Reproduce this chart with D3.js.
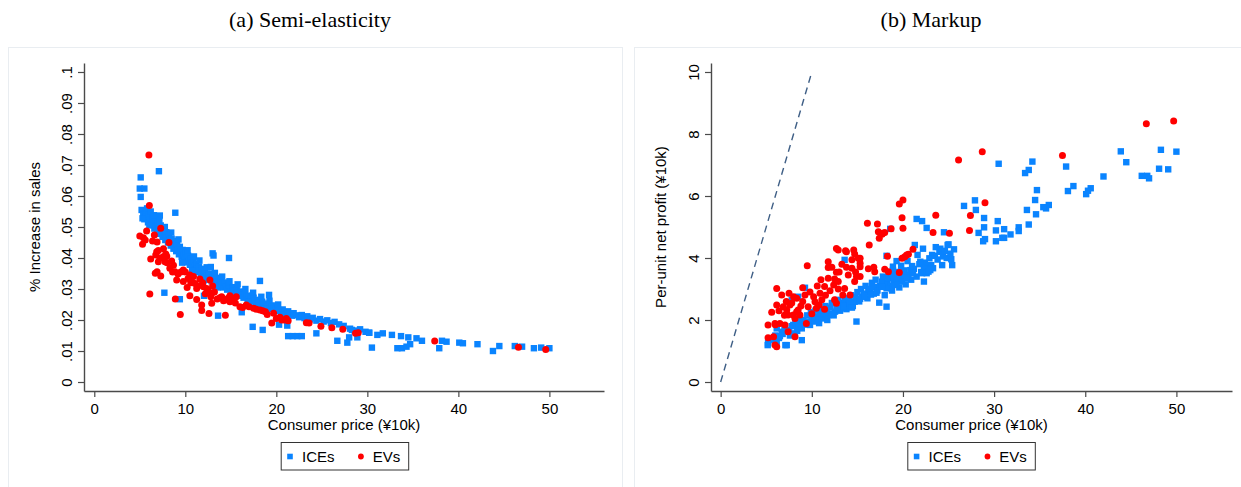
<!DOCTYPE html>
<html>
<head>
<meta charset="utf-8">
<script src="https://cdn.jsdelivr.net/npm/d3@7"></script>
<style>
  html, body { margin: 0; padding: 0; background: #fff; }
  svg { display: block; font-family: "Liberation Sans", Arial, Helvetica, sans-serif; }
</style>
</head>
<body>
<svg id="chart" width="1241" height="487"></svg>
<script>
// ---- Data: [consumer price (10k yuan), value] ----
const priceTicks = [0, 10, 20, 30, 40, 50];
const semiTicks = [0, 0.01, 0.02, 0.03, 0.04, 0.05, 0.06, 0.07, 0.08, 0.09, 0.1];
const semiTickLabels = ["0", ".01", ".02", ".03", ".04", ".05", ".06", ".07", ".08", ".09", ".1"];
const markupTicks = [0, 2, 4, 6, 8, 10];
const markupTickLabels = ["0", "2", "4", "6", "8", "10"];
const seriesNames = ["ICEs", "EVs"];
const panelTitles = ["(a) Semi-elasticity", "(b) Markup"];
const xTitles = ["Consumer price (\u00a510k)", "Consumer price (\u00a510k)"];
const yTitles = ["% Increase in sales", "Per-unit net profit (\u00a510k)"];
const diagonal = [[0, 0], [10, 10]];

const semiICE = [
  [5.1,0.066],[7.1,0.068],[5.0,0.0624],[5.5,0.0624],[5.1,0.0597],[5.4,0.0544],[7.2,0.0537],[8.9,0.0546],
  [5.2,0.0555],[5.4,0.0540],[5.5,0.0525],[5.6,0.0548],[5.7,0.0532],[5.8,0.0560],[5.9,0.0515],[6.0,0.0540],[6.1,0.0522],[6.2,0.0550],
  [6.3,0.0508],[6.4,0.0530],[6.5,0.0515],[6.6,0.0495],[6.7,0.0525],[6.8,0.0502],[6.9,0.0488],[7.0,0.0512],
  [7.1,0.0495],[7.2,0.0478],[7.3,0.0505],[7.4,0.0485],[7.5,0.0468],[7.6,0.0492],[7.7,0.0476],[7.8,0.0458],[7.9,0.0483],[8.0,0.0466],
  [8.1,0.0450],[8.2,0.0475],[8.3,0.0458],[8.4,0.0440],[8.5,0.0462],[8.6,0.0447],[8.7,0.0430],[8.8,0.0455],[8.9,0.0438],[9.0,0.0422],
  [9.1,0.0445],[9.2,0.0428],[9.3,0.0412],[9.4,0.0436],[9.5,0.0420],[9.6,0.0404],[9.7,0.0426],[9.8,0.0410],[9.9,0.0395],[10.0,0.0417],
  [10.1,0.0400],[10.2,0.0386],[10.3,0.0408],[10.4,0.0392],[10.5,0.0378],[10.6,0.0398],[10.7,0.0384],[10.8,0.0370],[10.9,0.0390],[11.0,0.0376],
  [11.1,0.0362],[11.2,0.0381],[11.3,0.0367],[11.4,0.0355],[11.5,0.0373],[11.6,0.0360],[11.7,0.0347],[11.8,0.0365],[11.9,0.0352],[12.0,0.0340],
  [12.15,0.0358],[12.3,0.0344],[12.45,0.0332],[12.6,0.0350],[12.75,0.0337],[12.9,0.0325],[13.0,0.0343],
  [13.15,0.0330],[13.3,0.0318],[13.45,0.0336],[13.6,0.0323],[13.75,0.0311],[13.9,0.0328],[14.0,0.0316],
  [14.15,0.0305],[14.3,0.0321],[14.45,0.0309],[14.6,0.0298],[14.75,0.0313],[14.9,0.0302],[15.0,0.0291],
  [15.2,0.0306],[15.35,0.0295],[15.5,0.0284],[15.65,0.0299],[15.8,0.0288],[15.95,0.0278],
  [16.1,0.0292],[16.25,0.0281],[16.4,0.0272],[16.55,0.0285],[16.7,0.0275],[16.85,0.0265],
  [17.0,0.0279],[17.2,0.0268],[17.35,0.0259],[17.5,0.0272],[17.65,0.0262],[17.8,0.0253],
  [17.95,0.0265],[18.1,0.0256],[18.3,0.0247],[18.45,0.0259],[18.6,0.0250],[18.8,0.0241],
  [18.95,0.0253],[19.1,0.0244],[19.3,0.0236],[19.5,0.0247],[19.7,0.0238],[19.9,0.0230],
  [20.1,0.0240],[20.3,0.0232],[20.5,0.0224],[20.7,0.0234],[20.9,0.0226],
  [21.1,0.0219],[21.3,0.0228],[21.5,0.0221],[21.7,0.0214],[21.9,0.0222],
  [22.2,0.0215],[22.5,0.0209],[22.8,0.0216],[23.1,0.0206],[23.4,0.0212],[23.7,0.0202],[24.0,0.0207],
  [24.4,0.0198],[24.8,0.0203],[25.2,0.0195],[25.6,0.0199],[26.0,0.0190],[26.4,0.0194],[26.9,0.0186],[27.4,0.0181],
  [28.1,0.0172],[28.6,0.0166],[29.2,0.0170],[29.8,0.0162],[30.2,0.0159],
  [5.3,0.0528],[6.05,0.0505],[6.55,0.0538],[7.15,0.0520],[7.75,0.0500],[8.45,0.0482],[9.25,0.0460],[10.25,0.0425],
  [10.95,0.0405],[11.55,0.0392],[12.35,0.0370],[13.25,0.0352],[14.05,0.0340],[14.85,0.0325],[15.75,0.0315],[16.6,0.0300],
  [17.45,0.0288],[18.35,0.0275],[19.25,0.0262],[20.2,0.0250],[9.65,0.0385],[10.75,0.0358],[12.05,0.0328],[13.55,0.0305],
  [15.1,0.0280],[16.95,0.0258],[18.7,0.0235],[20.6,0.0217],
  [13.0,0.0415],[13.1,0.0408],[14.8,0.0400],[12.8,0.0371],[18.2,0.0326],[19.2,0.0281],[7.7,0.0288],[9.4,0.0267],
  [13.6,0.0214],[17.4,0.0178],[18.5,0.0168],[20.3,0.0185],[21.2,0.0182],[21.3,0.0148],[21.8,0.0148],[22.3,0.0148],
  [22.8,0.0148],[24.4,0.0157],[16.2,0.0225],[12.05,0.0278],
  [26.7,0.0133],[27.8,0.0127],[28.0,0.0144],[28.3,0.0168],[28.9,0.0144],[30.2,0.0159],[30.5,0.0111],[31.1,0.0152],
  [31.7,0.0157],[32.7,0.0152],[33.3,0.0109],[33.8,0.0109],[34.3,0.0114],[33.7,0.0148],[34.5,0.0144],[34.7,0.0122],
  [35.4,0.0141],[36.0,0.0133],[37.9,0.0109],[38.2,0.0133],[38.7,0.0130],[40.1,0.0127],[40.5,0.0125],[42.1,0.0122],
  [43.8,0.0100],[44.5,0.0116],[46.2,0.0116],[47.0,0.0114],[48.3,0.0109],[49.1,0.0111],[50.0,0.0109]
];

const semiEV = [
  [6.0,0.0732],[6.05,0.0569],[5.0,0.0471],[5.3,0.0444],[5.75,0.0487],[5.6,0.0458],[5.4,0.0465],[6.6,0.0474],
  [7.3,0.0496],[6.9,0.0452],[8.2,0.0450],[6.86,0.0420],[7.85,0.0413],[6.2,0.0397],[7.04,0.0424],[6.75,0.0410],
  [7.58,0.0404],[7.96,0.0406],[7.04,0.0388],[7.77,0.0388],[8.5,0.0390],[6.7,0.0351],[7.3,0.0342],[6.9,0.0356],
  [8.3,0.0367],[8.87,0.0356],[9.2,0.0348],[9.78,0.0361],[8.7,0.0377],[9.05,0.0329],[9.78,0.0324],[10.3,0.0334],
  [10.7,0.0324],[10.5,0.0345],[11.6,0.0332],[12.7,0.0329],[12.0,0.0307],[11.25,0.0302],[12.35,0.0302],[11.07,0.0318],
  [10.6,0.0320],[10.5,0.0278],[11.25,0.0266],[11.8,0.0248],[11.8,0.0231],[12.9,0.0286],[12.9,0.0254],[14.0,0.0275],
  [14.5,0.0265],[14.9,0.0259],[15.6,0.0275],[12.6,0.0221],[14.4,0.0215],[6.1,0.0284],[8.9,0.0268],[9.45,0.0218],
  [13.8,0.0272],[14.9,0.0278],[16.0,0.0243],[16.7,0.0248],[17.5,0.0238],[18.2,0.0232],[18.8,0.0227],[19.7,0.0222],
  [20.4,0.0209],[21.1,0.0205],[19.5,0.0190],[20.0,0.0205],[20.6,0.0200],[23.3,0.0191],[23.6,0.0190],[24.9,0.0180],
  [26.1,0.0175],[27.3,0.0170],[28.7,0.0157],[29.0,0.0159],[37.4,0.0132],[46.6,0.0112],[49.6,0.0105],
  [10.0,0.0355],[10.9,0.0340],[11.4,0.0310],[12.2,0.0285],[12.5,0.0296],[13.2,0.0290],[13.5,0.0268],[14.2,0.0262],
  [15.2,0.0262],[15.5,0.0255],[16.3,0.0240],[17.0,0.0243],[17.8,0.0235],[18.5,0.0230],[19.0,0.0218],[13.0,0.0310],
  [11.9,0.0320],[9.5,0.0355],[8.0,0.0385],[7.6,0.0430],[6.4,0.0455],[8.6,0.0355],[7.2,0.0400],[10.2,0.0305],
  [12.8,0.0275],[14.7,0.0270],[20.9,0.0200],[21.3,0.0198]
];

const markupICE = [
  [5.2,1.25],[5.16,1.19],[5.5,1.35],[5.8,1.41],[6.0,1.50],[6.15,1.30],[6.15,1.73],[6.4,1.42],[6.7,1.62],[6.8,1.55],
  [7.0,1.75],[7.1,1.19],[7.25,1.19],[7.4,1.68],[7.6,1.50],[7.8,1.80],[7.97,1.84],[8.15,1.57],[8.2,1.90],[8.4,1.65],
  [8.5,1.95],[8.7,2.05],[8.9,1.73],[8.9,1.35],[9.07,2.00],[9.2,1.85],[9.5,2.15],[9.6,1.95],[9.8,1.84],[9.9,2.25],
  [10.1,2.00],[10.35,1.95],[10.4,2.30],[10.6,2.10],[10.8,1.90],[11.0,2.35],[11.1,2.05],[11.3,2.20],[11.5,2.45],[11.7,2.00],
  [11.8,2.16],[12.0,2.40],[12.2,2.55],[12.4,2.15],[12.55,2.27],[12.7,2.45],[12.9,2.65],[13.1,2.30],[13.3,2.38],[13.4,2.55],
  [13.6,2.70],[13.8,2.35],[14.0,2.48],[14.1,2.65],[14.3,2.80],[14.5,2.45],[14.7,2.59],[14.8,2.75],[14.9,1.95],[15.0,2.90],
  [15.2,2.60],[15.4,3.00],[15.5,2.75],[15.7,2.85],[15.9,3.10],[16.1,2.70],[16.2,2.91],[16.4,3.00],[16.6,3.20],[16.8,2.85],
  [16.9,3.07],[17.0,3.30],[17.2,2.95],[17.4,2.56],[17.5,3.10],[17.7,3.24],[17.8,3.40],[18.0,2.80],[18.2,2.43],[18.3,3.20],
  [18.4,3.35],[18.5,3.50],[18.8,2.95],[19.0,3.25],[19.1,3.40],[19.4,3.55],[19.6,3.05],[19.8,3.35],[19.9,3.51],[20.1,3.60],
  [20.3,3.15],[20.6,3.45],[20.9,3.30],[21.2,3.65],[21.5,3.40],[21.8,3.80],[22.0,3.55],[22.4,3.85],[22.7,3.70],[23.2,4.10],
  [23.8,3.95],[24.0,4.20],[24.4,4.05],[23.6,4.35],[24.8,4.00],[21.6,4.10],[22.2,4.30],[20.5,3.90],[19.8,3.75],
  [19.3,3.90],[21.0,3.74],[20.8,3.61],[21.1,3.51],[22.3,3.67],[22.1,3.51],[22.6,3.51],[22.8,3.56],[22.3,3.24],[18.9,3.61],
  [18.9,3.45],[20.0,3.45],[19.5,3.29],[19.9,3.24],[20.4,3.35],[19.3,3.13],[18.7,3.10],[18.2,3.02],[17.7,3.07],[18.6,4.94],
  [18.2,4.07],[18.9,3.72],[13.6,3.94],[9.25,3.04],[7.8,2.65],[8.5,2.75],
  [10.0,2.12],[10.9,2.22],[11.6,2.30],[12.1,2.20],[12.8,2.35],[13.5,2.45],[14.2,2.55],[14.4,2.40],[15.3,2.68],[15.8,2.78],
  [16.5,2.82],[17.1,2.88],[9.3,1.92],[8.6,1.80],[7.5,1.62],[6.5,1.48],
  [50.0,7.43],[48.3,7.49],[43.9,7.44],[44.5,7.09],[48.1,6.88],[49.1,6.86],[46.2,6.65],[46.8,6.65],[47.0,6.57],[42.0,6.63],
  [40.6,6.25],[40.3,6.17],[40.1,6.06],[38.7,6.32],[38.1,6.16],[37.9,6.95],[34.2,7.11],[33.8,6.84],[33.4,6.74],[30.5,7.04],
  [34.7,6.19],[34.5,5.87],[36.0,5.71],[35.7,5.60],[35.4,5.64],[34.6,5.41],[33.6,5.55],[33.8,5.08],[32.7,4.99],[32.7,4.87],
  [31.8,4.76],[31.1,4.65],[30.9,4.65],[30.2,4.54],[31.1,4.93],[30.2,4.89],[30.4,5.19],[28.9,5.29],[28.9,4.99],[28.3,4.81],
  [29.0,4.61],[28.8,4.54],[27.9,5.86],[28.0,5.55],[26.7,5.68],[22.1,5.19],[22.6,4.97],[24.5,4.83],[25.0,4.44],[24.1,4.30],
  [24.6,4.23],[25.6,4.28],[25.2,4.14],[25.3,3.96],[25.4,3.77],[22.9,3.99],[23.5,4.07],[23.1,3.77],[23.3,3.67],[24.3,3.77],
  [21.9,3.88],[21.5,5.26],[21.3,4.42],[24.9,4.42],[23.0,3.61]
];

const markupEV = [
  [49.7,8.42],[46.7,8.33],[37.5,7.31],[28.7,7.43],[26.1,7.16],[29.0,5.78],[23.6,5.38],[27.4,5.37],[23.3,4.82],[25.1,4.80],
  [27.3,4.89],[20.0,5.87],[19.6,5.74],[19.9,5.30],[20.0,4.96],[18.7,4.94],[16.1,5.12],[17.2,5.10],[17.3,4.85],[17.8,4.80],
  [18.0,4.82],[17.4,4.64],[16.3,4.42],[21.1,4.28],[20.6,4.12],[20.2,4.04],[19.9,3.99],[18.3,4.06],[15.3,3.99],[15.3,3.72],
  [15.3,3.40],[16.8,3.70],[16.9,3.56],[18.0,3.64],[18.4,3.56],[19.6,3.53],[17.7,4.77],
  [12.7,4.31],[13.7,4.23],[14.6,4.26],[14.7,4.13],[9.5,3.75],[11.8,3.88],[11.8,3.69],[13.3,3.80],[12.7,3.54],[14.4,3.94],
  [15.1,3.99],[14.4,3.67],[14.0,3.45],[14.9,3.40],[14.7,3.24],[11.8,3.35],[12.5,3.32],[12.9,3.24],[12.4,3.13],[11.4,3.08],
  [12.0,2.94],[12.9,3.00],[13.6,3.02],[13.4,2.81],[14.2,2.81],[9.25,2.81],[10.2,2.75],[10.35,2.59],[10.9,2.86],[11.1,2.65],
  [9.6,2.43],[10.5,2.38],[11.4,2.35],[12.5,2.65],[12.7,2.54],[6.15,3.02],[6.7,2.81],[7.5,2.86],[6.15,2.48],[6.87,2.43],
  [7.25,2.32],[7.6,2.48],[8.34,2.27],[8.7,2.16],[8.15,2.05],[7.4,2.16],[5.6,2.25],[6.5,1.89],[5.96,1.89],[5.2,1.84],
  [7.06,1.84],[7.97,2.16],[8.5,2.32],[9.4,1.89],[7.4,1.62],[5.2,1.43],[5.8,1.46],[5.96,1.19],[6.15,1.14],[8.15,1.46],
  [8.34,2.70],[9.0,3.04],[12.9,4.26],[13.8,4.20],[15.3,3.83],[20.4,4.10],
  [6.4,2.30],[7.0,2.15],[7.8,2.55],[8.0,2.75],[8.8,2.45],[9.8,2.90],[10.6,3.10],[11.0,3.30],[10.0,2.20],[9.0,2.60],
  [6.0,1.85],[7.2,2.60],[10.8,2.48],[11.5,2.80],[13.0,3.55],[13.8,3.70],[12.2,3.70],[14.8,3.55],[16.2,3.65]
];

// ---- Drawing ----
const BLUE = "#0a84ff", RED = "#ff0000", AXIS = "#4a4a4a", FRAME = "#e9edf1";
const svg = d3.select("#chart");

function drawPanel(p) {
  const g = svg.append("g");

  // light panel frame
  g.append("rect")
    .attr("x", p.frame[0] + 0.5).attr("y", p.frame[1] + 0.5)
    .attr("width", p.frame[2] - p.frame[0]).attr("height", p.frame[3] - p.frame[1])
    .attr("fill", "none").attr("stroke", FRAME).attr("stroke-width", 1);

  g.append("text")
    .attr("x", p.titleX).attr("y", 27)
    .attr("text-anchor", "middle")
    .attr("font-family", "'Liberation Serif', 'Times New Roman', serif")
    .attr("font-size", 22).attr("fill", "#000")
    .text(p.title);

  const x = d3.scaleLinear().domain(p.xDomain).range(p.xRange);
  const y = d3.scaleLinear().domain(p.yDomain).range([391, 63]);

  // x axis
  const gx = g.append("g").attr("transform", "translate(0,391)")
    .call(d3.axisBottom(x).tickValues(priceTicks).tickSize(6).tickSizeOuter(0));
  // y axis
  const gy = g.append("g").attr("transform", `translate(${p.xRange[0]},0)`)
    .call(d3.axisLeft(y).tickValues(p.yTicks).tickSize(6).tickSizeOuter(0)
      .tickFormat((d, i) => p.yLabels[i]));

  [gx, gy].forEach(a => {
    a.select(".domain").attr("stroke", AXIS).attr("stroke-width", 1.4);
    a.selectAll(".tick line").attr("stroke", AXIS).attr("stroke-width", 1.2);
    a.selectAll(".tick text").attr("fill", "#000").attr("font-size", 15)
      .attr("font-family", "'Liberation Sans', Arial, sans-serif");
  });
  gx.selectAll(".tick text").attr("y", 12);
  gy.selectAll(".tick text")
    .attr("transform", "rotate(-90)")
    .attr("x", 0).attr("y", -12).attr("dy", 0)
    .attr("text-anchor", "middle");

  // axis titles
  g.append("text")
    .attr("x", (p.xRange[0] + p.xRange[1]) / 2).attr("y", 430)
    .attr("text-anchor", "middle").attr("font-size", 15).attr("fill", "#000")
    .text(p.xTitle);
  g.append("text")
    .attr("transform", `translate(${p.yTitleX},227) rotate(-90)`)
    .attr("text-anchor", "middle").attr("font-size", 15).attr("fill", "#000")
    .text(p.yTitle);

  // 45-degree reference line
  if (p.diagonal) {
    g.append("line")
      .attr("x1", x(p.diagonal[0][0])).attr("y1", y(p.diagonal[0][1]))
      .attr("x2", x(p.diagonal[1][0])).attr("y2", y(p.diagonal[1][1]))
      .attr("stroke", "#3f5f86").attr("stroke-width", 1.4)
      .attr("stroke-dasharray", "7,5");
  }

  const s = 6.4;
  g.append("g").selectAll("rect").data(p.ice).join("rect")
    .attr("x", d => x(d[0]) - s / 2).attr("y", d => y(d[1]) - s / 2)
    .attr("width", s).attr("height", s).attr("fill", BLUE);
  g.append("g").selectAll("circle").data(p.ev).join("circle")
    .attr("cx", d => x(d[0])).attr("cy", d => y(d[1])).attr("r", 3.5)
    .attr("fill", RED);

  // legend
  const lx = p.legendX;
  const lg = g.append("g");
  lg.append("rect").attr("x", lx + 0.5).attr("y", 442.5).attr("width", 127.5).attr("height", 27.5)
    .attr("fill", "#fff").attr("stroke", "#333").attr("stroke-width", 1);
  lg.append("rect").attr("x", lx + 9.3 - 2.8).attr("y", 456.5 - 2.8).attr("width", 5.6).attr("height", 5.6)
    .attr("fill", BLUE);
  lg.append("text").attr("x", lx + 21.3).attr("y", 462).attr("font-size", 15).attr("fill", "#000")
    .text(seriesNames[0]);
  lg.append("circle").attr("cx", lx + 80.2).attr("cy", 456.5).attr("r", 2.9).attr("fill", RED);
  lg.append("text").attr("x", lx + 92).attr("y", 462).attr("font-size", 15).attr("fill", "#000")
    .text(seriesNames[1]);
}

drawPanel({
  frame: [8, 47, 622, 500], title: panelTitles[0], titleX: 310,
  xDomain: [-1.13, 56.0], xRange: [84, 604],
  yDomain: [-0.0029, 0.1029], yTicks: semiTicks, yLabels: semiTickLabels,
  xTitle: xTitles[0], yTitle: yTitles[0], yTitleX: 39.5,
  ice: semiICE, ev: semiEV, legendX: 280.7, diagonal: null
});

drawPanel({
  frame: [634, 47, 1250, 500], title: panelTitles[1], titleX: 931,
  xDomain: [-1.06, 56.1], xRange: [711, 1232],
  yDomain: [-0.29, 10.29], yTicks: markupTicks, yLabels: markupTickLabels,
  xTitle: xTitles[1], yTitle: yTitles[1], yTitleX: 666,
  ice: markupICE, ev: markupEV, legendX: 907.3, diagonal: diagonal
});
</script>
</body>
</html>
